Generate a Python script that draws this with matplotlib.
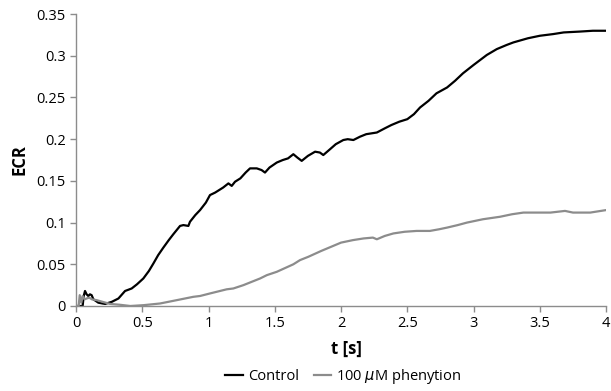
import numpy as np
import matplotlib
matplotlib.use("Agg")
import matplotlib.pyplot as plt

# ECR traces
t_control = [0, 0.05, 0.058, 0.068, 0.08, 0.093, 0.105, 0.118, 0.131, 0.15, 0.168, 0.2, 0.22,
             0.27, 0.32, 0.37, 0.42, 0.46, 0.508, 0.55, 0.584, 0.62, 0.659, 0.7, 0.734, 0.785,
             0.81, 0.848, 0.86, 0.9, 0.936, 0.98, 1.011, 1.05, 1.11, 1.15, 1.175, 1.2, 1.24,
             1.28, 1.313, 1.364, 1.4, 1.426, 1.46, 1.515, 1.56, 1.6, 1.64, 1.67, 1.703, 1.75,
             1.804, 1.84, 1.866, 1.917, 1.96, 2.017, 2.05, 2.093, 2.143, 2.19, 2.27, 2.33,
             2.38, 2.44, 2.5, 2.55, 2.596, 2.66, 2.72, 2.8, 2.86, 2.92, 3.0, 3.05, 3.1, 3.175,
             3.25, 3.3, 3.41, 3.5, 3.6, 3.68, 3.8, 3.9, 4.0]
ecr_control = [0, 0, 0.012, 0.018, 0.014, 0.012, 0.014, 0.013, 0.008, 0.006, 0.004, 0.003, 0.0025,
               0.005, 0.009, 0.018, 0.021, 0.026, 0.033, 0.042, 0.051, 0.061, 0.070, 0.079, 0.086,
               0.096, 0.097, 0.096, 0.101, 0.109, 0.115, 0.124, 0.133, 0.136, 0.142, 0.147, 0.144,
               0.149, 0.153, 0.160, 0.165, 0.165, 0.163, 0.160, 0.166, 0.172, 0.175, 0.177, 0.182,
               0.178, 0.174, 0.180, 0.185, 0.184, 0.181, 0.188, 0.194, 0.199, 0.200, 0.199, 0.203,
               0.206, 0.208, 0.213, 0.217, 0.221, 0.224, 0.230, 0.238, 0.246, 0.255, 0.262, 0.270,
               0.279, 0.289, 0.295, 0.301, 0.308, 0.313, 0.316, 0.321, 0.324, 0.326, 0.328, 0.329,
               0.330, 0.330]

t_phenytoin = [0, 0.02, 0.028, 0.04, 0.05, 0.065, 0.08, 0.1, 0.12, 0.156, 0.2, 0.257, 0.33, 0.41,
               0.51, 0.634, 0.76, 0.885, 0.936, 1.01, 1.137, 1.187, 1.263, 1.389, 1.44, 1.515,
               1.64, 1.69, 1.753, 1.85, 1.94, 2.0, 2.09, 2.17, 2.24, 2.27, 2.33, 2.395, 2.48,
               2.57, 2.67, 2.74, 2.8, 2.88, 2.95, 3.07, 3.2, 3.29, 3.376, 3.5, 3.58, 3.69, 3.75,
               3.88, 4.0]
ecr_phenytoin = [0, 0, 0.013, 0.004, 0.012, 0.008, 0.009, 0.010, 0.008, 0.007, 0.005, 0.0025,
                 0.0015, 0.0, 0.001, 0.003, 0.007, 0.011, 0.012, 0.015, 0.020, 0.021, 0.025, 0.033,
                 0.037, 0.041, 0.050, 0.055, 0.059, 0.066, 0.072, 0.076, 0.079, 0.081, 0.082,
                 0.080, 0.084, 0.087, 0.089, 0.090, 0.090, 0.092, 0.094, 0.097, 0.100, 0.104,
                 0.107, 0.110, 0.112, 0.112, 0.112, 0.114, 0.112, 0.112, 0.115]

x_ticks = [0, 0.5, 1, 1.5, 2, 2.5, 3, 3.5, 4]
y_ticks = [0, 0.05, 0.1, 0.15, 0.2, 0.25, 0.3, 0.35]

plt.rcParams['font.family'] = ['Open Sans', 'DejaVu Sans']

fig = plt.figure(figsize=(6.11, 3.91), dpi=100)
ax = fig.add_axes([0.1244, 0.2174, 0.8676, 0.7466])

ax.plot(t_control, ecr_control, color="black", linewidth=1.6, label="Control")
ax.plot(t_phenytoin, ecr_phenytoin, color="#8c8c8c", linewidth=1.6, label=r"100 $\mu$M phenytion")

ax.set_xlim(0, 4)
ax.set_ylim(0, 0.35)
ax.set_xticks(x_ticks)
ax.set_xticklabels([f"{v:g}" for v in x_ticks])
ax.set_yticks(y_ticks)
ax.set_yticklabels([f"{v:g}" for v in y_ticks])

for s in ("top", "right"):
    ax.spines[s].set_visible(False)
for s in ("left", "bottom"):
    ax.spines[s].set_color("#8c8c8c")
    ax.spines[s].set_linewidth(1.0)
ax.tick_params(colors="#8c8c8c", length=4, width=1.0, labelsize=10.5, labelcolor="black")

ax.set_xlabel("t [s]", fontsize=12, fontweight="bold", labelpad=4)
ax.xaxis.set_label_coords(0.51, -0.115)
ax.set_ylabel("ECR", fontsize=12, fontweight="bold", labelpad=6)

fig.legend(loc="lower center", bbox_to_anchor=(0.562, -0.022), ncol=2, frameon=False,
           fontsize=10.5, handlelength=1.2, handletextpad=0.35, columnspacing=1.0)

fig.savefig("out.png", dpi=100)
